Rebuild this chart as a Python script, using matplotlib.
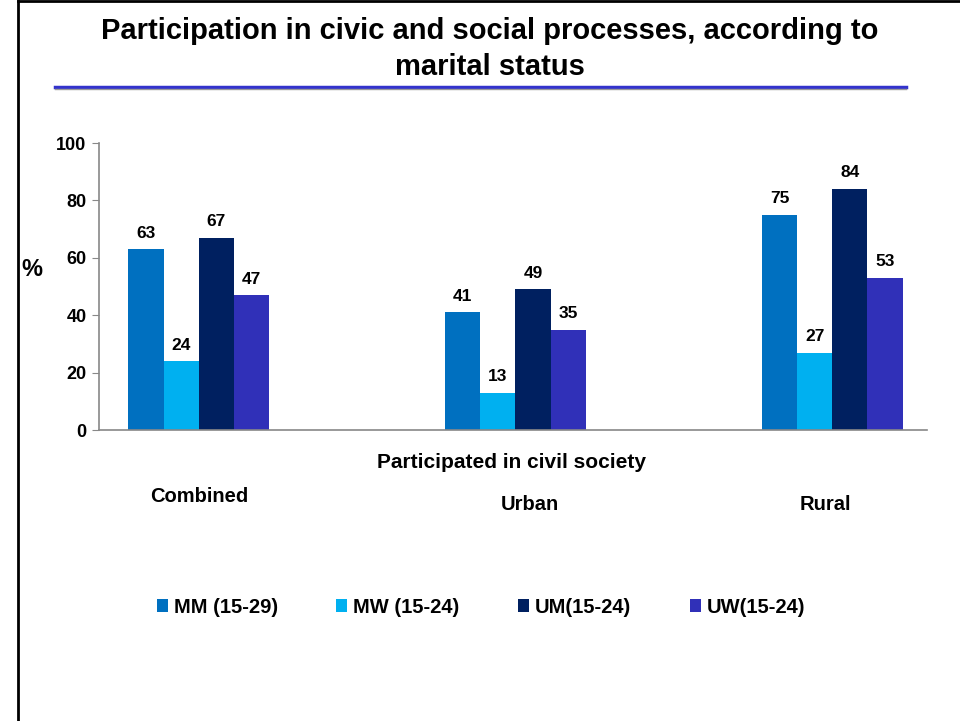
import matplotlib.pyplot as plt
import numpy as np
from matplotlib.lines import Line2D

plt.rcParams['font.family'] = ['Liberation Sans', 'DejaVu Sans']

# groups and series
groups = ['Combined', 'Urban', 'Rural']
series = ['MM (15-29)', 'MW (15-24)', 'UM(15-24)', 'UW(15-24)']
mm = [63, 41, 75]
mw = [24, 13, 27]
um = [67, 49, 84]
uw = [47, 35, 53]
colours = ['#0070C0', '#00B0F0', '#002060', '#3030B8']

fig = plt.figure(figsize=(9.6, 7.21), dpi=100)
ax = fig.add_axes([0.103, 0.4036, 0.863, 0.398])

x = np.arange(len(groups))
width = 0.111
for i, (vals, col, name) in enumerate(zip([mm, mw, um, uw], colours, series)):
    pos = x + (i - 1.5) * width
    bars = ax.bar(pos, vals, width, color=col, label=name)
    for b, v in zip(bars, vals):
        ax.text(b.get_x() + b.get_width() / 2, v + 3, str(v), ha='center',
                va='bottom', fontsize=12.5, fontweight='bold')

ax.set_ylim(0, 100)
ax.set_xlim(-0.315, 2.30)
ax.set_yticks([0, 20, 40, 60, 80, 100])
ax.set_xticks([])
ax.tick_params(axis='y', labelsize=13, length=5, color='#888888', pad=4)
for lab in ax.get_yticklabels():
    lab.set_fontweight('bold')
for s in ['top', 'right']:
    ax.spines[s].set_visible(False)
for s in ['left', 'bottom']:
    ax.spines[s].set_color('#888888')
    ax.spines[s].set_linewidth(1.2)

# titles and labels
fig.text(0.51, 0.932, 'Participation in civic and social processes, according to\nmarital status',
         ha='center', va='center', fontsize=21, fontweight='bold', linespacing=1.38)
fig.text(0.033, 0.626, '%', ha='center', va='center', fontsize=17, fontweight='bold')
fig.text(0.533, 0.359, 'Participated in civil society', ha='center', va='center',
         fontsize=15, fontweight='bold')
fig.text(0.208, 0.311, 'Combined', ha='center', va='center', fontsize=14.5, fontweight='bold')
fig.text(0.552, 0.300, 'Urban', ha='center', va='center', fontsize=14.5, fontweight='bold')
fig.text(0.860, 0.300, 'Rural', ha='center', va='center', fontsize=14.5, fontweight='bold')

# legend
leg = fig.legend(loc='center', bbox_to_anchor=(0.501, 0.158), ncol=4, frameon=False,
                 handlelength=0.55, handleheight=0.55, handletextpad=0.3,
                 columnspacing=2.9, prop={'weight': 'bold', 'size': 14.5})

# underline below the title and slide frame
fig.add_artist(Line2D([0.057, 0.944], [0.879, 0.879], color='#3333CC', lw=2.5))
fig.add_artist(Line2D([0.057, 0.944], [0.876, 0.876], color='#999999', lw=1))
fig.add_artist(Line2D([0.019, 1.0], [0.998, 0.998], color='black', lw=2))
fig.add_artist(Line2D([0.019, 0.019], [0.0, 0.998], color='black', lw=2))

fig.savefig('out.png', dpi=100)
